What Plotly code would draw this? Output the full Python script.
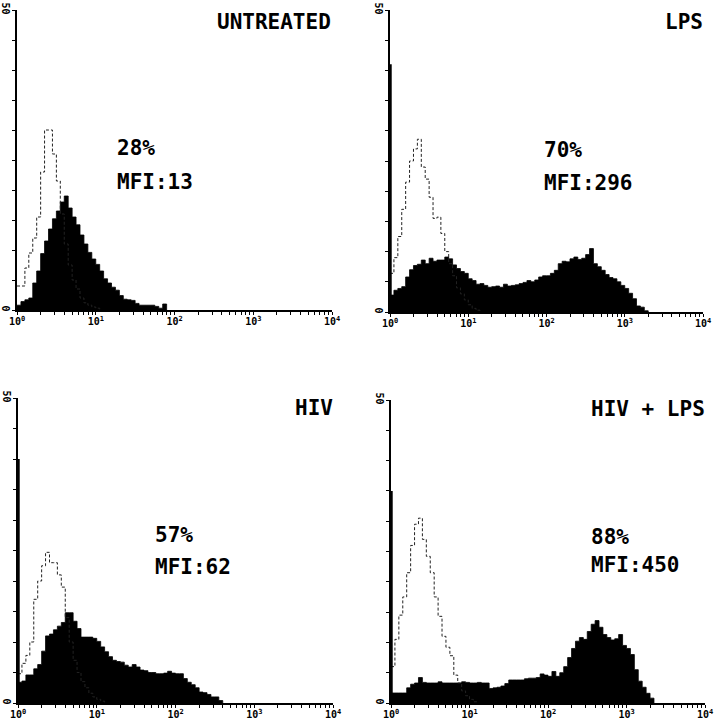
import plotly.graph_objects as go

# ---------------- data (counts per 0.05-decade channel, starting at 10^0) ----------------
BIN_WIDTH_DECADES = 0.05

untreated_ctrl = [4, 4, 7, 9.5, 12, 15.5, 23, 30, 30, 26, 21.5, 16, 11, 7.5, 5, 3.5, 2, 1.2, 0.8, 0.5, 0.3]
untreated_pos = [0.8, 1.4, 1.7, 2.0, 4.5, 6.5, 9.4, 11.5, 13.5, 15.2, 16.5, 18.0, 19.0, 17.0, 15.5, 14.2,
                 12.5, 11.0, 9.6, 8.5, 7.6, 6.5, 5.2, 4.5, 3.8, 3.3, 2.4, 1.8, 1.7, 1.6, 1.1, 0.8, 0.8,
                 0.8, 0.8, 0.6, 0.3, 1.0]

lps_ctrl = [6.4, 9, 12.5, 17, 21.5, 25, 27, 28.6, 24, 22, 19, 15.5, 15.7, 13, 10, 8, 6, 4, 3, 2, 1.2, 0.6, 0.3]
lps_pos = [2.8, 3.6, 3.9, 4.2, 5.8, 7.0, 7.7, 7.9, 8.6, 8.0, 8.9, 8.4, 8.6, 8.6, 9.1, 8.8, 7.8, 7.2, 6.7,
           6.4, 5.5, 5.2, 4.6, 4.7, 4.4, 4.1, 4.2, 4.3, 4.1, 4.6, 4.3, 4.4, 4.5, 4.7, 4.9, 5.2, 5.0, 5.3,
           5.8, 6.0, 6.0, 6.4, 6.9, 8.0, 8.4, 8.3, 8.8, 9.1, 8.7, 8.9, 9.5, 10.5, 8.0, 7.5, 6.9, 6.2, 5.7,
           5.5, 5.0, 4.4, 3.9, 3.1, 2.2, 1.0, 0.8, 0.2]
lps_ch0 = 41

hiv_ctrl = [4.8, 6.5, 7.8, 10, 17, 20, 22.5, 24.7, 23, 23, 21, 19, 14, 10, 7, 5, 3.5, 2.5, 1.6, 1, 0.6, 0.3]
hiv_pos = [3.4, 3.6, 4.6, 4.6, 5.6, 6.3, 8.5, 11, 11.3, 12, 12.6, 13.2, 14.8, 14.8, 13.4, 12.2, 10.8, 10.8,
           10.8, 10.6, 10.1, 9.2, 8.4, 7.6, 7.0, 6.8, 6.7, 6.2, 5.9, 6.3, 5.9, 5.4, 5.3, 5.0, 5.0, 4.8,
           4.8, 4.9, 5.2, 4.9, 4.8, 4.8, 4.0, 3.4, 3.0, 2.5, 1.8, 1.7, 1.4, 1.0, 1.0, 0.4]
hiv_ch0 = 40

hivlps_ctrl = [6, 10.5, 14.5, 17.5, 21.5, 26, 29.5, 30.5, 27, 24.2, 21.5, 17.5, 14.3, 11, 9.2, 7.8, 4.6,
               3.3, 2.0, 1.2, 0.6, 0.2]
hivlps_pos = [1.65, 1.65, 1.65, 1.65, 2.5, 3.1, 3.3, 4.2, 3.4, 3.3, 3.3, 3.3, 3.5, 3.3, 3.3, 3.3, 3.3, 3.3,
              3.5, 3.4, 3.3, 3.3, 3.4, 3.3, 3.3, 2.4, 2.5, 2.6, 2.8, 3.2, 3.8, 3.8, 3.8, 3.8, 4.0, 4.1,
              4.1, 4.2, 4.8, 4.6, 4.4, 5.2, 4.4, 5.0, 6.0, 7.5, 9.0, 10.2, 10.8, 10.5, 11.8, 13.0, 13.6,
              12.5, 11.3, 10.8, 10.4, 10.6, 11.3, 9.5, 9.0, 8.0, 5.5, 3.6, 2.6, 1.6, 0.8]
hivlps_ch0 = 35

panel_titles = ["UNTREATED", "LPS", "HIV", "HIV + LPS"]
panel_pct = ["28%", "70%", "57%", "88%"]
panel_mfi = ["MFI:13", "MFI:296", "MFI:62", "MFI:450"]

x_tick_vals = [1, 10, 100, 1000, 10000]
x_tick_labels = ["10<sup>0</sup>", "10<sup>1</sup>", "10<sup>2</sup>", "10<sup>3</sup>", "10<sup>4</sup>"]
y_tick_vals = [0, 50]
y_tick_labels = ["0", "50"]
y_max = 50

# ---------------- layout geometry (pixels) ----------------
W, H = 718, 720
boxes = [(17, 332, 10, 310), (390, 703, 10, 312), (18, 333, 398, 703), (391, 705, 400, 703)]
title_pos = [(333, 22), (705, 22), (335, 408), (707, 409)]
stats_pos = [(115, 148, 182), (542, 150, 183), (153, 535, 567), (589, 537, 565)]

FONT = "DejaVu Sans Mono"

fig = go.Figure()


def step_xy(vals):
    xs = [10 ** (i * BIN_WIDTH_DECADES) for i in range(len(vals) + 1)]
    ys = list(vals) + [0]
    return xs, ys


panels = [
    (untreated_ctrl, untreated_pos, None),
    (lps_ctrl, lps_pos, lps_ch0),
    (hiv_ctrl, hiv_pos, hiv_ch0),
    (hivlps_ctrl, hivlps_pos, hivlps_ch0),
]

x_minor = [m * 10 ** d for d in range(4) for m in range(2, 10)]
y_minor = list(range(5, y_max, 5))

for i, (ctrl, pos, ch0) in enumerate(panels):
    n = i + 1
    xa = "x" if n == 1 else f"x{n}"
    ya = "y" if n == 1 else f"y{n}"
    xs, ys = step_xy(pos)
    fig.add_trace(go.Scatter(x=xs, y=ys, xaxis=xa, yaxis=ya, mode="lines", line_shape="hv",
                             line=dict(color="black", width=0.8), fill="tozeroy",
                             fillcolor="black", showlegend=False, hoverinfo="skip"))
    xs, ys = step_xy(ctrl)
    fig.add_trace(go.Scatter(x=xs, y=ys, xaxis=xa, yaxis=ya, mode="lines", line_shape="hv",
                             line=dict(color="#222", width=1, dash="3px,2px"),
                             showlegend=False, hoverinfo="skip"))
    if ch0 is not None:
        fig.add_trace(go.Scatter(x=[10 ** 0.006, 10 ** 0.006], y=[0, ch0], xaxis=xa, yaxis=ya,
                                 mode="lines", line=dict(color="black", width=2.5),
                                 showlegend=False, hoverinfo="skip"))

    l, r, t, b = boxes[i]
    axkey_x = "xaxis" if n == 1 else f"xaxis{n}"
    axkey_y = "yaxis" if n == 1 else f"yaxis{n}"
    fig.layout[axkey_x] = dict(
        type="log", range=[0, 4], domain=[l / W, r / W], anchor=ya,
        showline=True, linecolor="black", linewidth=1.6, showgrid=False, zeroline=False,
        ticks="outside", ticklen=3, tickwidth=1, tickcolor="black",
        tickvals=x_tick_vals, ticktext=x_tick_labels, ticklabelstandoff=-2,
        minor=dict(tickvals=x_minor, ticks="outside", ticklen=3, tickwidth=1, tickcolor="black",
                   showgrid=False),
        tickfont=dict(family=FONT, size=10, color="black", weight="bold"), automargin=False,
    )
    fig.layout[axkey_y] = dict(
        range=[0, y_max], domain=[1 - b / H, 1 - t / H], anchor=xa,
        showline=True, linecolor="black", linewidth=1.6, showgrid=False, zeroline=False,
        ticks="outside", ticklen=3, tickwidth=1, tickcolor="black",
        tickvals=y_tick_vals, ticktext=y_tick_labels, tickangle=90, ticklabelstandoff=-2,
        minor=dict(tickvals=y_minor, ticks="outside", ticklen=3, tickwidth=1, tickcolor="black",
                   showgrid=False),
        tickfont=dict(family=FONT, size=10, color="black", weight="bold"), automargin=False,
    )

    tx, ty = title_pos[i]
    fig.add_annotation(x=tx / W, y=1 - ty / H, xref="paper", yref="paper", text=f"<b>{panel_titles[i]}</b>",
                       showarrow=False, xanchor="right", yanchor="middle",
                       font=dict(family=FONT, size=21, color="black"))
    sx, py1, py2 = stats_pos[i]
    fig.add_annotation(x=sx / W, y=1 - py1 / H, xref="paper", yref="paper", text=f"<b>{panel_pct[i]}</b>",
                       showarrow=False, xanchor="left", yanchor="middle",
                       font=dict(family=FONT, size=21, color="black"))
    fig.add_annotation(x=sx / W, y=1 - py2 / H, xref="paper", yref="paper", text=f"<b>{panel_mfi[i]}</b>",
                       showarrow=False, xanchor="left", yanchor="middle",
                       font=dict(family=FONT, size=21, color="black"))

fig.update_layout(width=W, height=H, margin=dict(l=0, r=0, t=0, b=0),
                  paper_bgcolor="white", plot_bgcolor="white")

fig.write_html("out.html", config={"displayModeBar": False},
               post_script="document.body.style.margin='0px';")
